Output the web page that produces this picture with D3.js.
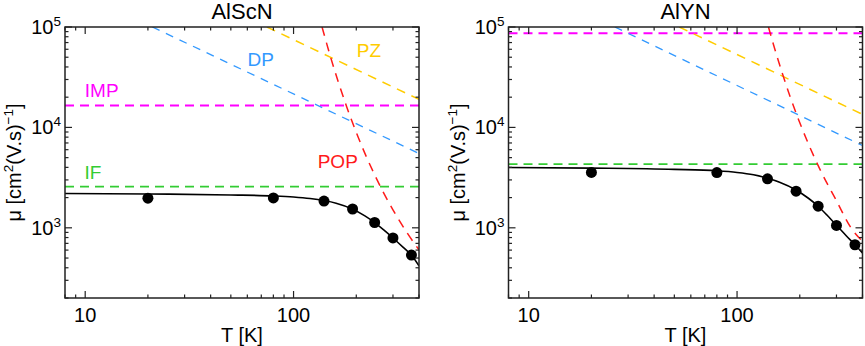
<!DOCTYPE html>
<html><head><meta charset="utf-8">
<script src="https://cdn.jsdelivr.net/npm/d3@7"></script>
<style>html,body{margin:0;padding:0;background:#fff;} svg{display:block;font-family:"Liberation Sans",Arial,Helvetica,sans-serif;}</style>
</head><body>
<svg id="c" width="865" height="346"></svg>
<script>
// ---------- data ----------
const titles = ["AlScN", "AlYN"];
const xDomain = [8, 400];
const yDomain = [200, 1e5];
const xMajor = [10, 100];
const xMajorLabels = ["10", "100"];
const xMinor = [8, 9, 20, 30, 40, 50, 60, 70, 80, 90, 200, 300, 400];
const yMajor = [1e3, 1e4, 1e5];
const yMajorExp = ["3", "4", "5"];
const yMinor = [200,300,400,500,600,700,800,900,2e3,3e3,4e3,5e3,6e3,7e3,8e3,9e3,2e4,3e4,4e4,5e4,6e4,7e4,8e4,9e4];

// measured points (both samples)
const pointT = [20, 80, 140, 192, 245, 300, 368];
const pointsAlScN = [1975, 1985, 1846, 1540, 1130, 794, 535];
const pointsAlYN  = [3560, 3550, 3073, 2317, 1644, 1055, 678];

// total mobility curve
const curveT = [8, 20, 50, 80, 100, 120, 140, 160, 190, 220, 245, 270, 300, 335, 370, 400];
const curveAlScN = [2195, 2172, 2125, 2080, 2030, 1960, 1870, 1760, 1550, 1315, 1128, 958, 792, 642, 528, 418];
const curveAlYN  = [3990, 3930, 3820, 3700, 3560, 3370, 3120, 2850, 2410, 1970, 1640, 1340, 1060, 830, 670, 562];

// scattering mechanisms
const impAlScN = 16500, impAlYN = 86500;
const ifAlScN = 2570, ifAlYN = 4306;
const dpT_AlScN = [21, 400], dpAlScN = [1e5, 5500];
const dpT_AlYN  = [25.9, 400], dpAlYN = [1e5, 6600];
const pzT_AlScN = [74.5, 400], pzAlScN = [1e5, 19000];
const pzT_AlYN  = [52.8, 400], pzAlYN = [1e5, 13500];
const popT = [137, 150, 180, 220, 250, 300, 350, 400];
const popAlScN = [100000, 51500, 16000, 5510, 3090, 1510, 897, 603];
const popT_AlYN = [141.5, 150, 180, 220, 250, 300, 350, 400];
const popAlYN = [100000, 65500, 20100, 6860, 3820, 1860, 1020, 735];

const labelNames = ["DP", "PZ", "IMP", "POP", "IF"];
const labelT_AlScN = [69.6, 230, 12, 163, 10.9];
const labelMu_AlScN = [40900, 50250, 20090, 3945, 3062];

// ---------- drawing ----------
const svg = d3.select("#c");
const colors = {DP:"#3399ff", PZ:"#ffcc00", IMP:"#ff00ff", POP:"#ff1a1a", IF:"#33cc33"};
const panels = [
  {x0:65, x1:419, title:titles[0], pts:pointsAlScN, curve:curveAlScN, imp:impAlScN, iff:ifAlScN,
   dpT:dpT_AlScN, dp:dpAlScN, pzT:pzT_AlScN, pz:pzAlScN, popT:popT, pop:popAlScN,
   labels:labelNames.map((n, k) => ({t:n, T:labelT_AlScN[k], mu:labelMu_AlScN[k]}))},
  {x0:508.5, x1:862.5, title:titles[1], pts:pointsAlYN, curve:curveAlYN, imp:impAlYN, iff:ifAlYN,
   dpT:dpT_AlYN, dp:dpAlYN, pzT:pzT_AlYN, pz:pzAlYN, popT:popT_AlYN, pop:popAlYN, labels:[]}
];
const y0 = 27, y1 = 298;
const axisColor = "#222";
const FS = 20, SUP = 13.5;

panels.forEach((p, i) => {
  const x = d3.scaleLog().domain(xDomain).range([p.x0, p.x1]);
  const y = d3.scaleLog().domain(yDomain).range([y1, y0]);
  const g = svg.append("g");
  const clipId = "clip" + i;
  svg.append("clipPath").attr("id", clipId).append("rect")
    .attr("x", p.x0).attr("y", y0).attr("width", p.x1 - p.x0).attr("height", y1 - y0);
  const plot = g.append("g").attr("clip-path", `url(#${clipId})`);
  const line = d3.line().x(d => x(d[0])).y(d => y(d[1]));
  const smooth = d3.line().x(d => x(d[0])).y(d => y(d[1])).curve(d3.curveMonotoneX);

  plot.append("path").attr("d", line([[xDomain[0], p.imp], [xDomain[1], p.imp]]))
    .attr("stroke", colors.IMP).attr("stroke-width", 2).attr("stroke-dasharray", "9,6").attr("fill", "none");
  plot.append("path").attr("d", line([[xDomain[0], p.iff], [xDomain[1], p.iff]]))
    .attr("stroke", colors.IF).attr("stroke-width", 1.8).attr("stroke-dasharray", "9,6").attr("fill", "none");
  plot.append("path").attr("d", line(p.dpT.map((t, k) => [t, p.dp[k]])))
    .attr("stroke", colors.DP).attr("stroke-width", 1.3).attr("stroke-dasharray", "8,7").attr("fill", "none");
  plot.append("path").attr("d", line(p.pzT.map((t, k) => [t, p.pz[k]])))
    .attr("stroke", colors.PZ).attr("stroke-width", 1.5).attr("stroke-dasharray", "9,7").attr("fill", "none");
  plot.append("path").attr("d", smooth(p.popT.map((t, k) => [t, p.pop[k]])))
    .attr("stroke", colors.POP).attr("stroke-width", 1.5).attr("stroke-dasharray", "9,7").attr("fill", "none");
  plot.append("path").attr("d", smooth(curveT.map((t, k) => [t, p.curve[k]])))
    .attr("stroke", "#000").attr("stroke-width", 1.6).attr("fill", "none");
  plot.selectAll("circle").data(pointT.map((t, k) => [t, p.pts[k]])).join("circle")
    .attr("cx", d => x(d[0])).attr("cy", d => y(d[1])).attr("r", 5.5).attr("fill", "#000");

  p.labels.forEach(l => {
    g.append("text").attr("x", x(l.T)).attr("y", y(l.mu)).attr("fill", colors[l.t])
      .attr("font-size", 19).attr("text-anchor", "middle").text(l.t);
  });

  g.append("rect").attr("x", p.x0).attr("y", y0).attr("width", p.x1 - p.x0).attr("height", y1 - y0)
    .attr("fill", "none").attr("stroke", axisColor).attr("stroke-width", 1.5);

  const tk = g.append("g").attr("stroke", axisColor).attr("stroke-width", 1.2);
  const addY = (vals, len) => vals.forEach(v => {
    tk.append("line").attr("x1", p.x0).attr("x2", p.x0 + len).attr("y1", y(v)).attr("y2", y(v));
    tk.append("line").attr("x1", p.x1).attr("x2", p.x1 - len).attr("y1", y(v)).attr("y2", y(v));
  });
  const addX = (vals, len) => vals.forEach(v => {
    tk.append("line").attr("y1", y1).attr("y2", y1 - len).attr("x1", x(v)).attr("x2", x(v));
    tk.append("line").attr("y1", y0).attr("y2", y0 + len).attr("x1", x(v)).attr("x2", x(v));
  });
  addY(yMajor, 7); addY(yMinor, 3.5);
  addX(xMajor, 7); addX(xMinor, 3.5);

  yMajor.forEach((v, k) => {
    const t = g.append("text").attr("x", p.x0 - 4).attr("y", y(v) + 7).attr("text-anchor", "end")
      .attr("font-size", FS).attr("fill", "#000");
    t.append("tspan").text("10");
    t.append("tspan").attr("dy", -8).attr("font-size", SUP).text(yMajorExp[k]);
  });
  xMajor.forEach((v, k) => {
    g.append("text").attr("x", x(v)).attr("y", 322).attr("text-anchor", "middle")
      .attr("font-size", FS).attr("fill", "#000").text(xMajorLabels[k]);
  });

  g.append("text").attr("x", (p.x0 + p.x1) / 2).attr("y", 342).attr("text-anchor", "middle")
    .attr("font-size", FS).text("T [K]");
  const yl = g.append("text").attr("transform", `translate(${p.x0 - 44},${(y0 + y1) / 2}) rotate(-90)`)
    .attr("text-anchor", "middle").attr("font-size", FS);
  yl.append("tspan").text("μ [cm");
  yl.append("tspan").attr("dy", -8).attr("font-size", SUP).text("2");
  yl.append("tspan").attr("dy", 8).text("(V.s)");
  yl.append("tspan").attr("dy", -8).attr("font-size", SUP).text("−1");
  yl.append("tspan").attr("dy", 8).text("]");

  g.append("text").attr("x", (p.x0 + p.x1) / 2).attr("y", 19).attr("text-anchor", "middle")
    .attr("font-size", 22).text(p.title);
});
</script>
</body></html>
